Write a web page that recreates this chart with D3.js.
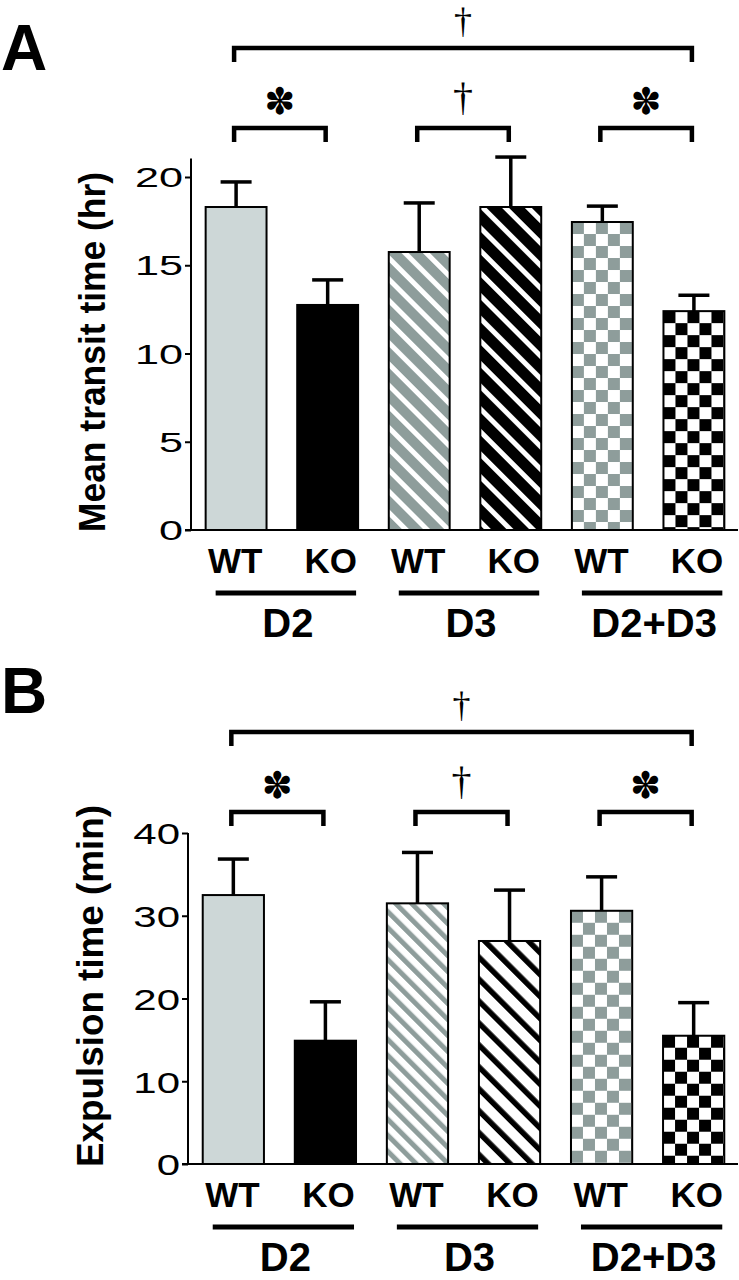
<!DOCTYPE html>
<html>
<head>
<meta charset="utf-8">
<script src="https://cdn.jsdelivr.net/npm/d3@7"></script>
<style>
  body { margin: 0; background: #fff; }
  text { font-family: "Liberation Sans", Arial, sans-serif; }
</style>
</head>
<body>
<svg id="chart" width="739" height="1280"></svg>
<script>
// data (bars = mean, whisker = upper error)
var groups = ["D2", "D3", "D2+D3"];
var genotypes = ["WT", "KO"];
var transitMean = [18.3, 12.75, 15.75, 18.3, 17.45, 12.4];
var transitErr = [1.42, 1.42, 2.78, 2.83, 0.9, 0.9];
var transitTicks = [0, 5, 10, 15, 20];
var expulsionMean = [32.5, 14.9, 31.5, 26.95, 30.6, 15.5];
var expulsionErr = [4.35, 4.7, 6.15, 6.15, 4.1, 4.0];
var expulsionTicks = [0, 10, 20, 30, 40];
// significance marks: [first bar, last bar, mark, level]
var comparisons = [[0, 5, "\u2020", "top"], [0, 1, "\u273D", "low"], [2, 3, "\u2020", "low"], [4, 5, "\u273D", "low"]];

var LIGHT = "#cdd7d7", GRAY = "#8e9d9b";

var panels = [
  { letter: "A", label: "Mean transit time (hr)", mean: transitMean, err: transitErr, ticks: transitTicks,
    axisTop: 21.05, axisX: 191, base: 530, topPx: 177, letterY: 70, bigY: 48, smallY: 128,
    labelX: 105, labelLen: 360, tickSize: 27, tickSx: 1.6,
    stripes: [{ bg: GRAY, fg: "#fff", period: 15, w: 5 }, { bg: "#000", fg: "#fff", period: 16, w: 5 }] },
  { letter: "B", label: "Expulsion time (min)", mean: expulsionMean, err: expulsionErr, ticks: expulsionTicks,
    axisTop: 40, axisX: 188, base: 1164, topPx: 833, letterY: 713, bigY: 732, smallY: 812,
    labelX: 103, labelLen: 362, tickSize: 30, tickSx: 1.4,
    stripes: [{ bg: "#fff", fg: GRAY, period: 11.3, w: 5 }, { bg: "#fff", fg: "#000", period: 15.5, w: 5.5 }] }
];

var svg = d3.select("#chart");
var defs = svg.append("defs");

function stripePattern(id, s) {
  var p = defs.append("pattern").attr("id", id)
    .attr("patternUnits", "userSpaceOnUse")
    .attr("width", s.period).attr("height", s.period)
    .attr("patternTransform", "rotate(-45)");
  p.append("rect").attr("width", s.period).attr("height", s.period).attr("fill", s.bg);
  p.append("rect").attr("width", s.w).attr("height", s.period).attr("fill", s.fg);
}

function checkPattern(id, x, y, dark) {
  var c = 12;
  var p = defs.append("pattern").attr("id", id)
    .attr("patternUnits", "userSpaceOnUse")
    .attr("x", x).attr("y", y)
    .attr("width", c * 2).attr("height", c * 2);
  p.append("rect").attr("width", c * 2).attr("height", c * 2).attr("fill", "#fff");
  p.append("rect").attr("width", c).attr("height", c).attr("fill", dark);
  p.append("rect").attr("x", c).attr("y", c).attr("width", c).attr("height", c).attr("fill", dark);
}

panels.forEach(function (pn, pi) {
  var bars = d3.range(6);
  var x = d3.scaleBand().domain(bars).range([pn.axisX, 739]).paddingInner(0.335).paddingOuter(0.16);
  var y = d3.scaleLinear().domain([0, pn.ticks[pn.ticks.length - 1]]).range([pn.base, pn.topPx]);
  var g = svg.append("g");
  var bw = x.bandwidth();

  stripePattern("s" + pi + "a", pn.stripes[0]);
  stripePattern("s" + pi + "b", pn.stripes[1]);
  checkPattern("c" + pi + "a", x(4), y(pn.mean[4]), GRAY);
  checkPattern("c" + pi + "b", x(5), y(pn.mean[5]), "#000");
  var fills = [LIGHT, "#000", "url(#s" + pi + "a)", "url(#s" + pi + "b)", "url(#c" + pi + "a)", "url(#c" + pi + "b)"];

  // panel letter
  g.append("text").attr("x", 1).attr("y", pn.letterY)
    .style("font-size", "64px").style("font-weight", "bold").text(pn.letter);

  // error bars (upper only)
  var eb = g.selectAll(".err").data(bars).enter().append("g")
    .attr("stroke", "#000").attr("stroke-width", 3.5);
  eb.append("line")
    .attr("x1", function (d) { return x(d) + bw / 2; })
    .attr("x2", function (d) { return x(d) + bw / 2; })
    .attr("y1", function (d) { return y(pn.mean[d]); })
    .attr("y2", function (d) { return y(pn.mean[d] + pn.err[d]); });
  eb.append("line")
    .attr("x1", function (d) { return x(d) + bw / 2 - 15.5; })
    .attr("x2", function (d) { return x(d) + bw / 2 + 15.5; })
    .attr("y1", function (d) { return y(pn.mean[d] + pn.err[d]); })
    .attr("y2", function (d) { return y(pn.mean[d] + pn.err[d]); });

  // bars
  g.selectAll(".bar").data(bars).enter().append("rect")
    .attr("x", function (d) { return x(d); })
    .attr("y", function (d) { return y(pn.mean[d]); })
    .attr("width", bw)
    .attr("height", function (d) { return y(0) - y(pn.mean[d]); })
    .attr("fill", function (d) { return fills[d]; })
    .attr("stroke", "#000").attr("stroke-width", 2);

  // axes
  var yAxis = d3.axisLeft(y).tickValues(pn.ticks).tickSize(6).tickSizeOuter(0).tickPadding(0);
  var ya = g.append("g").attr("transform", "translate(" + pn.axisX + ",0)").call(yAxis);
  ya.select(".domain").remove();
  ya.selectAll("line").attr("stroke-width", 2);
  ya.selectAll("text")
    .attr("x", -8 / pn.tickSx).attr("dy", "0.36em")
    .attr("transform", "scale(" + pn.tickSx + ",1)")
    .style("font-size", pn.tickSize + "px").style("font-family", "'Liberation Sans', Arial, sans-serif")
    .attr("fill", "#000");
  g.append("line").attr("x1", pn.axisX).attr("x2", pn.axisX)
    .attr("y1", y(0) + 1).attr("y2", y(pn.axisTop))
    .attr("stroke", "#000").attr("stroke-width", 2);
  g.append("line").attr("x1", pn.axisX - 6).attr("x2", 738)
    .attr("y1", y(0)).attr("y2", y(0))
    .attr("stroke", "#000").attr("stroke-width", 2);

  // y label
  g.append("text")
    .attr("transform", "translate(" + pn.labelX + "," + (pn.base - 178) + ") rotate(-90)")
    .attr("text-anchor", "middle")
    .attr("textLength", pn.labelLen).attr("lengthAdjust", "spacingAndGlyphs")
    .style("font-size", "36px").style("font-weight", "bold").text(pn.label);

  // genotype labels
  g.selectAll(".gt").data(bars).enter().append("text")
    .attr("x", function (d) { return x(d) + bw / 2 + (d % 2 ? 3 : -1); })
    .attr("y", y(0) + 43)
    .attr("text-anchor", "middle")
    .style("font-size", "35px").style("font-weight", "bold")
    .text(function (d) { return genotypes[d % 2]; });

  // group underlines and names
  groups.forEach(function (name, k) {
    var x1 = x(2 * k) + 10, x2 = x(2 * k + 1) + bw - 2;
    g.append("line").attr("x1", x1).attr("x2", x2)
      .attr("y1", y(0) + 63).attr("y2", y(0) + 63)
      .attr("stroke", "#000").attr("stroke-width", 5);
    g.append("text").attr("x", (x1 + x2) / 2 + 2).attr("y", y(0) + 107)
      .attr("text-anchor", "middle")
      .style("font-size", "40px").style("font-weight", "bold").text(name);
  });

  // significance brackets
  comparisons.forEach(function (c) {
    var top = c[3] === "top";
    var by = top ? pn.bigY : pn.smallY;
    var x1 = x(c[0]) + bw / 2 - 2, x2 = x(c[1]) + bw / 2 - 2;
    g.append("path")
      .attr("d", "M" + x1 + "," + (by + 14) + "V" + by + "H" + x2 + "V" + (by + 14))
      .attr("fill", "none").attr("stroke", "#000").attr("stroke-width", 4.5);
    var isDagger = c[2] === "\u2020";
    g.append("text").attr("x", (x1 + x2) / 2)
      .attr("y", by + (isDagger ? (top ? -15 : -18) : -14))
      .attr("text-anchor", "middle")
      .style("font-family", isDagger ? "'Liberation Serif', serif" : "'DejaVu Sans', sans-serif")
      .style("font-size", isDagger ? (top ? "36px" : "40px") : "37px")
      .text(c[2]);
  });
});
</script>
</body>
</html>
